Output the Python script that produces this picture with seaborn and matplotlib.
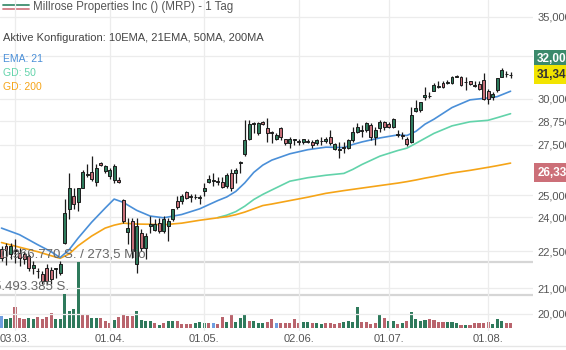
import numpy as np
import pandas as pd
import matplotlib
matplotlib.use("Agg")
import matplotlib.pyplot as plt
from matplotlib.lines import Line2D
from matplotlib.ticker import FixedLocator, NullLocator, FixedFormatter
import matplotlib.transforms as mtrans
import seaborn as sns

# ---------------- data ----------------
opens = [22.61, 22.74, 22.40, 22.55, 22.45, 22.40, 22.32, 21.82, 21.70, 21.57,
         21.82, 21.73, 21.76, 21.61, 22.87, 24.39, 24.99, 24.71, 25.37, 26.00,
         26.15, 25.66, 26.60, 26.20, 25.91, 25.76, 25.76, 24.81, 23.36, 23.84,
         21.98, 23.31, 22.66, 23.62, 23.44, 23.75, 23.40, 23.62, 23.93, 24.76,
         24.76, 25.14, 24.96, 24.92, 24.90, 25.23, 25.62, 25.70, 25.71, 25.66,
         25.47, 26.10, 26.06, 26.58, 27.05, 27.83, 28.62, 28.10, 28.69, 28.37,
         28.15, 27.78, 28.37, 27.78, 27.57, 27.76, 27.70, 27.63, 27.66, 27.63,
         27.57, 27.68, 27.68, 27.89, 27.31, 27.25, 27.38, 27.36, 27.73, 28.15,
         28.24, 28.26, 28.53, 27.89, 28.37, 28.69, 28.58, 28.42, 28.02, 27.99,
         27.83, 27.63, 29.29, 29.35, 30.08, 30.12, 30.42, 30.68, 30.88, 30.92,
         30.88, 31.26, 31.23, 30.93, 31.00, 30.78, 30.82, 31.06, 30.42, 30.08,
         30.48, 31.23, 31.43, 31.38]
highs = [22.74, 22.87, 22.87, 23.05, 22.66, 22.53, 22.40, 22.11, 21.82, 21.69,
         21.98, 21.86, 21.82, 22.11, 24.85, 26.06, 25.33, 25.37, 26.25, 26.55,
         26.95, 26.55, 26.65, 26.50, 26.35, 26.55, 25.86, 24.85, 23.98, 23.98,
         23.98, 23.49, 23.31, 24.07, 23.93, 23.98, 24.07, 23.98, 24.39, 24.99,
         25.09, 25.23, 25.09, 25.09, 25.04, 25.57, 25.96, 26.10, 25.86, 25.86,
         26.06, 26.30, 26.35, 26.70, 28.80, 28.80, 28.69, 28.69, 28.75, 28.91,
         28.20, 28.10, 28.42, 27.83, 27.89, 27.83, 27.83, 27.83, 27.83, 27.73,
         27.78, 27.89, 27.89, 28.26, 27.57, 27.63, 27.63, 27.83, 28.42, 28.64,
         28.53, 28.69, 28.64, 28.42, 28.80, 28.75, 28.69, 28.91, 28.26, 28.15,
         27.89, 29.55, 29.91, 29.79, 30.65, 30.36, 30.88, 31.00, 31.00, 31.06,
         31.29, 31.35, 31.29, 31.23, 31.00, 31.00, 31.00, 31.47, 30.53, 30.36,
         31.18, 31.77, 31.59, 31.53]
lows = [22.11, 21.94, 22.19, 22.03, 21.90, 21.98, 21.69, 21.57, 21.41, 21.17,
        21.17, 21.17, 21.41, 21.53, 22.80, 23.93, 24.39, 24.30, 25.35, 25.86,
        25.71, 25.47, 26.45, 26.06, 25.81, 25.57, 25.57, 23.75, 22.83, 22.24,
        21.61, 22.53, 22.19, 23.31, 23.40, 23.31, 23.31, 22.96, 23.84, 24.39,
        24.62, 24.85, 24.71, 24.85, 24.62, 24.99, 25.57, 25.47, 25.52, 25.37,
        25.33, 25.23, 25.57, 26.06, 26.95, 27.73, 28.10, 27.99, 28.53, 27.63,
        27.58, 27.73, 27.73, 27.47, 27.36, 27.47, 27.47, 27.52, 27.57, 27.36,
        27.47, 27.47, 27.57, 27.47, 27.21, 26.85, 27.10, 27.31, 27.63, 28.10,
        27.89, 28.15, 27.73, 27.47, 28.15, 28.26, 28.37, 28.37, 27.89, 27.83,
        27.42, 27.57, 29.24, 29.24, 29.91, 30.02, 30.42, 30.59, 30.59, 30.82,
        30.82, 31.23, 30.70, 30.48, 30.76, 30.65, 30.48, 29.91, 29.68, 29.91,
        30.36, 31.23, 31.23, 31.17]
closes = [22.24, 22.57, 22.74, 22.50, 22.24, 22.19, 21.82, 21.94, 21.68, 21.29,
          21.29, 21.37, 21.79, 21.98, 24.21, 25.33, 24.62, 25.33, 26.15, 26.02,
          25.81, 26.35, 26.50, 26.45, 26.25, 26.45, 25.62, 23.84, 23.53, 22.53,
          23.62, 22.66, 23.18, 23.71, 23.71, 23.40, 23.93, 23.84, 24.35, 24.44,
          24.99, 24.90, 24.93, 24.95, 24.92, 25.37, 25.81, 25.73, 25.64, 25.42,
          25.96, 25.33, 26.25, 26.62, 27.73, 28.58, 28.66, 28.64, 28.58, 28.10,
          28.12, 27.99, 27.89, 27.57, 27.83, 27.80, 27.66, 27.78, 27.69, 27.47,
          27.73, 27.70, 27.83, 27.57, 27.52, 27.28, 27.34, 27.73, 28.15, 28.42,
          28.28, 28.64, 27.89, 28.26, 28.69, 28.42, 28.42, 28.86, 28.06, 27.96,
          27.52, 29.10, 29.46, 29.79, 30.19, 30.15, 30.76, 30.71, 30.65, 30.95,
          31.23, 31.30, 30.76, 30.97, 30.82, 30.74, 30.53, 29.96, 29.96, 30.25,
          31.18, 31.65, 31.40, 31.34]
volumes_mio = [2.0, 1.45, 1.7, 3.4, 1.7, 1.45, 1.6, 1.45, 1.8, 1.55,
               1.8, 2.5, 1.45, 1.45, 5.6, 2.8, 3.1, 10.97, 2.15, 2.15,
               1.7, 1.6, 1.6, 1.15, 0.9, 1.3, 1.8, 2.4, 2.0, 2.0,
               2.8, 1.3, 1.15, 1.15, 0.8, 0.55, 0.8, 1.15, 1.15, 1.15,
               0.65, 0.6, 0.65, 0.8, 1.0, 0.9, 0.8, 0.9, 0.7, 1.8,
               1.0, 2.1, 1.0, 1.6, 2.2, 1.2, 1.2, 0.9, 0.9, 1.0,
               1.5, 0.9, 0.9, 0.8, 0.9, 1.5, 0.8, 1.0, 1.0, 0.8,
               0.8, 0.7, 0.8, 0.8, 0.7, 0.8, 1.0, 1.2, 1.0, 3.4,
               1.0, 1.0, 0.7, 0.9, 2.2, 1.7, 1.2, 1.2, 0.7, 0.9,
               1.2, 2.6, 1.5, 1.1, 1.3, 1.5, 1.4, 1.0, 1.0, 1.0,
               1.0, 0.85, 0.55, 0.55, 0.55, 0.85, 0.85, 0.85, 0.95, 0.7,
               1.5, 1.1, 0.85, 0.9]
volume_flags = list("BGGRRRGGRR" "RRGGGGGGRR" "GGRRRGRRRR" "GGGGRGRGGR"
                    "RRRGGGRBRR" "GRGGGRGGGR" "RBRRRRRGGR" "GGRRRRGGGG"
                    "RRRRGRGGRG" "RGGGGRRRRG" "GGRGRRRRRG" "GGRR")

ma_idx = [0, 4, 8, 11, 13, 15, 17, 20, 23, 25, 27, 30, 33, 36, 40, 44, 48, 50, 52, 54,
          56, 58, 60, 64, 68, 72, 76, 78, 80, 84, 88, 90, 92, 94, 96, 100, 104, 108, 110, 113]
ema21 = [23.51, 23.22, 22.79, 22.49, 22.24, 22.57, 23.07, 23.77, 24.41, 24.83,
         24.68, 24.31, 24.05, 23.97, 24.12, 24.38, 24.76, 24.93, 25.19, 25.60,
         26.11, 26.47, 26.72, 27.04, 27.25, 27.38, 27.36, 27.52, 27.65, 27.86,
         28.02, 27.99, 28.21, 28.59, 28.86, 29.50, 29.93, 30.04, 30.11, 30.42]
gd50 = [np.nan] * 16 + [23.98, 24.09, 24.25, 24.50, 24.81, 25.05, 25.26, 25.68,
                        25.85, 25.97, 26.06, 26.26, 26.50, 26.92, 27.21, 27.33,
                        27.58, 27.84, 28.10, 28.50, 28.72, 28.80, 28.94, 29.16]
gd200 = [22.88, 22.68, 22.49, 22.32, 22.21, 22.39, 22.74, 23.16, 23.51, 23.64,
         23.73, 23.69, 23.68, 23.66, 23.73, 23.86, 23.97, 24.02, 24.11, 24.23,
         24.38, 24.53, 24.60, 24.76, 24.92, 25.10, 25.23, 25.29, 25.35, 25.47,
         25.59, 25.66, 25.74, 25.83, 25.91, 26.08, 26.21, 26.36, 26.44, 26.57]

date_idx = [3, 24, 45, 66, 86, 108]
date_labels = ["03.03.", "01.04.", "01.05.", "02.06.", "01.07.", "01.08."]
price_ticks = [20, 21, 22.5, 24, 25, 27.5, 28.75, 30, 32.5, 35]
price_tick_labels = ["20,000", "21,000", "22,500", "24,000", "25,000",
                     "27,500", "28,750", "30,000", "32,500", "35,000"]
vol_levels = [10.966770, 5.493385]
vol_texts = ["10.966.770 S. / 273,5 Mio", "5.493.385 S."]
price_boxes = [(32.000, "32,000"), (31.340, "31,340"), (26.330, "26,330")]

# ---------------- style ----------------
GREEN = "#2e7b5c"
RED = "#c66f79"
VGREEN = "#2f7a5c"
VRED = "#b9646d"
VBLUE = "#6f9ee0"
BLUE = "#4a8fd8"
TEAL = "#62d3aa"
ORANGE = "#f5a417"
GRID = "#ececec"
TXT = "#555555"

sns.set_theme(style="white")
plt.rcParams['font.family'] = ['Liberation Sans', 'DejaVu Sans']

W, H = 566, 350
fig = plt.figure(figsize=(W / 100, H / 100), dpi=100)
AX_R, AX_B = 533, 331
ax = fig.add_axes([0, 1 - AX_B / H, AX_R / W, AX_B / H])
axv = ax.twinx()
ax.set_zorder(2)
axv.set_zorder(1)
ax.patch.set_visible(False)

n = len(closes)
idx = np.arange(n)
o = np.array(opens); c = np.array(closes); hi = np.array(highs); lo = np.array(lows)

# volume
vcol = [{"G": VGREEN, "R": VRED, "B": VBLUE}[f] for f in volume_flags]
axv.bar(idx, volumes_mio, width=0.68, color=vcol, linewidth=0, zorder=2)
for lvl in vol_levels:
    axv.axhline(lvl, color="#d6d6d6", lw=1.6, zorder=1)
axv.set_ylim(-0.499, 54.35)
axv.set_yticks([])
for s in axv.spines.values():
    s.set_visible(False)

# price axis
ax.set_yscale("log")
ax.set_ylim(19.37, 36.12)
ax.set_xlim(-0.333, (AX_R - 1.5) / 4.505)
ax.yaxis.set_major_locator(FixedLocator(price_ticks))
ax.yaxis.set_major_formatter(FixedFormatter(price_tick_labels))
ax.yaxis.set_minor_locator(NullLocator())
ax.yaxis.tick_right()
ax.set_xticks(date_idx)
ax.set_xticklabels(date_labels)
ax.tick_params(axis="both", length=0, labelsize=8, colors=TXT)
ax.tick_params(axis="y", pad=3)
ax.tick_params(axis="x", pad=2)
ax.grid(True, color=GRID, lw=0.9)
ax.set_axisbelow(True)
for s in ax.spines.values():
    s.set_visible(False)
ax.set_xlabel(""); ax.set_ylabel("")

# moving averages
ma = pd.DataFrame({"idx": ma_idx, "ema21": ema21, "gd50": gd50, "gd200": gd200})
sns.lineplot(data=ma.dropna(subset=["gd50"]), x="idx", y="gd50", ax=ax, color=TEAL,
             lw=1.2, estimator=None, zorder=2)
sns.lineplot(data=ma, x="idx", y="gd200", ax=ax, color=ORANGE, lw=1.2,
             estimator=None, zorder=2)
sns.lineplot(data=ma, x="idx", y="ema21", ax=ax, color=BLUE, lw=1.2,
             estimator=None, zorder=2)
ax.set_xlabel(""); ax.set_ylabel("")

# candles
up = c >= o
ax.vlines(idx, lo, hi, color="#1c1c1c", lw=0.9, zorder=3)
ax.bar(idx, np.maximum(np.abs(c - o), 0.02), bottom=np.minimum(o, c), width=0.66,
       color=np.where(up, GREEN, RED), edgecolor="#1c1c1c", linewidth=0.7, zorder=4)

# volume level texts (drawn on top of the price panel)
tr = mtrans.blended_transform_factory(ax.transAxes, axv.transData)
for lvl, t in zip(vol_levels, vol_texts):
    ax.annotate(t, xy=(0, lvl), xycoords=tr, xytext=(-4.5, 1.0), textcoords="offset points",
                ha="left", va="bottom", fontsize=9.5, color="#666666", zorder=6,
                annotation_clip=False)

# price boxes on the right
box_styles = [("#3b8a6b", "white", 3.5), ("#f2e400", "#333333", 0.5), ("#cc6f78", "white", -3.5)]
trp = mtrans.blended_transform_factory(ax.transAxes, ax.transData)
for (val, txt), (bg, fg, dy) in zip(price_boxes, box_styles):
    ax.annotate(txt, xy=(1, val), xycoords=trp, xytext=(3, dy), textcoords="offset points",
                ha="left", va="center", fontsize=8.5, color=fg, fontweight="bold",
                bbox=dict(boxstyle="square,pad=0.3", fc=bg, ec="none"),
                annotation_clip=False, zorder=10)

# header
def fx(px):
    return px / W
def fy(py):
    return 1 - py / H

fig.add_artist(Line2D([fx(3), fx(29)], [fy(4.5), fy(4.5)], color="#3f8f6f", lw=1.3))
fig.add_artist(Line2D([fx(3), fx(29)], [fy(8.5), fy(8.5)], color="#d27b84", lw=1.3))
fig.text(fx(33), fy(7), "Millrose Properties Inc () (MRP) - 1 Tag", fontsize=8.3,
         color="#555555", va="center", ha="left")
fig.text(fx(3), fy(38), "Aktive Konfiguration: 10EMA, 21EMA, 50MA, 200MA", fontsize=8,
         color="#444444", va="center", ha="left")
fig.text(fx(3), fy(59), "EMA: 21", fontsize=7.5, color=BLUE, va="center", ha="left")
fig.text(fx(3), fy(73), "GD: 50", fontsize=7.5, color=TEAL, va="center", ha="left")
fig.text(fx(3), fy(87), "GD: 200", fontsize=7.5, color=ORANGE, va="center", ha="left")

fig.add_artist(Line2D([0, 1], [fy(346), fy(346)], color="#e6e6e6", lw=1))

fig.savefig("out.png", dpi=100)
